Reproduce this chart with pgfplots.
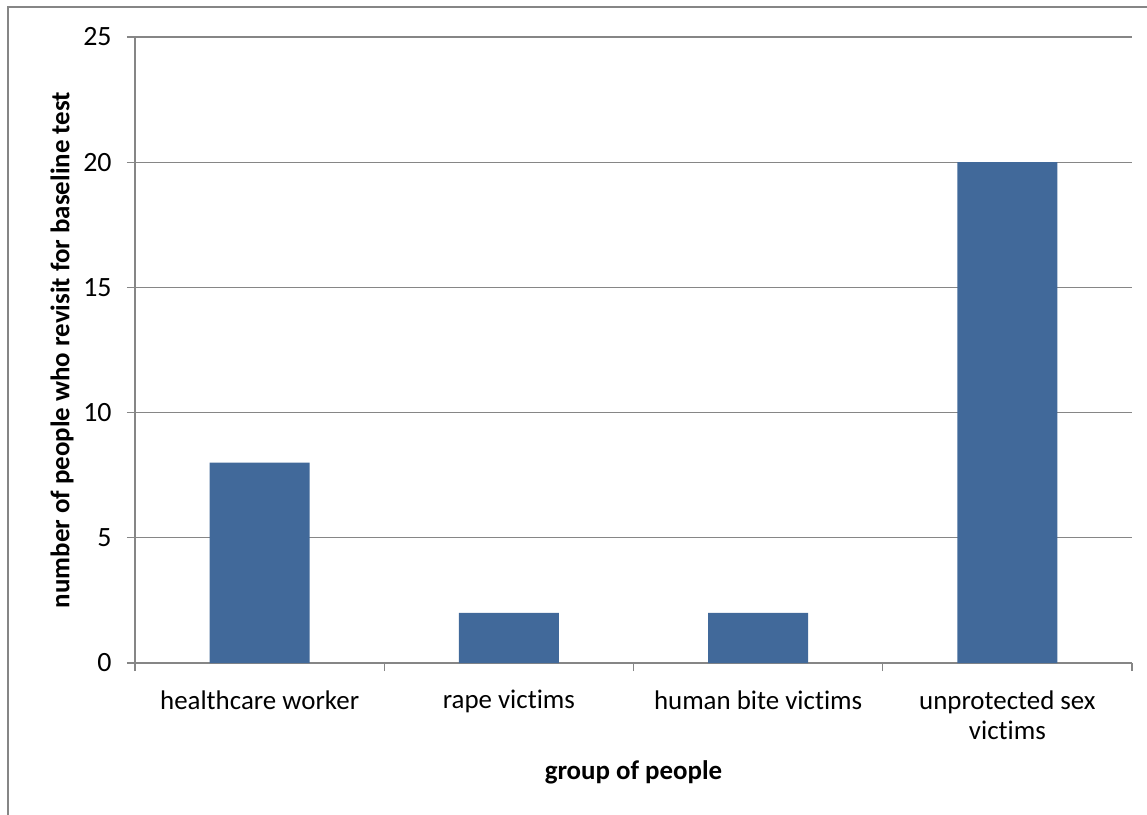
\documentclass[border=0pt]{standalone}
\usepackage{pgfplots}
\pgfplotsset{compat=1.18}
\usepackage{fontspec}
\setmainfont[Ligatures=NoCommon]{Carlito}
\definecolor{barblue}{RGB}{65,105,154}
\definecolor{axgray}{RGB}{134,134,134}
\begin{document}
\fontsize{13.5}{15.5}\selectfont
\begin{tikzpicture}
\useasboundingbox (-67.5bp,-76bp) rectangle (506bp,331.5bp);
\draw[axgray, line width=0.6bp] (-63.5bp,-80bp) -- (-63.5bp,328bp) -- (510bp,328bp);
\begin{axis}[
  at={(0,0)}, anchor=south west,
  scale only axis,
  width=498.5bp, height=313bp,
  xmin=-0.5, xmax=3.5,
  ymin=0, ymax=25,
  ytick={0,5,10,15,20,25},
  xtick={0,1,2,3},
  xticklabels={healthcare worker, rape victims, human bite victims, {unprotected sex\\victims}},
  minor xtick={-0.5,0.5,1.5,2.5,3.5},
  major x tick style={draw=none},
  minor tick length=4bp,
  major tick length=4bp,
  tick align=outside,
  tick style={axgray, line width=0.6bp},
  axis x line*=bottom,
  axis y line*=left,
  axis line style={axgray, line width=0.6bp, -},
  ymajorgrids,
  grid style={axgray, line width=0.6bp},
  /pgf/number format/assume math mode=true,
  yticklabel style={font=\fontsize{14}{15.5}\selectfont, xshift=-3bp},
  xticklabel style={font=\fontsize{13.5}{15.5}\selectfont, align=center, yshift=-5bp},
  ylabel={\textbf{number of people who revisit for baseline test}},
  xlabel={\textbf{group of people}},
  ylabel style={at={(axis description cs:-0.0732,0.5)}, anchor=center, font=\fontsize{13.5}{15.5}\selectfont},
  xlabel style={at={(axis description cs:0.5,0)}, yshift=-54.5bp, anchor=center, font=\fontsize{13.5}{15.5}\selectfont},
  clip=false,
]
\addplot[ybar, bar width=50bp, fill=barblue, draw=none] coordinates {(0,8) (1,2) (2,2) (3,20)};
\end{axis}
\end{tikzpicture}
\end{document}
